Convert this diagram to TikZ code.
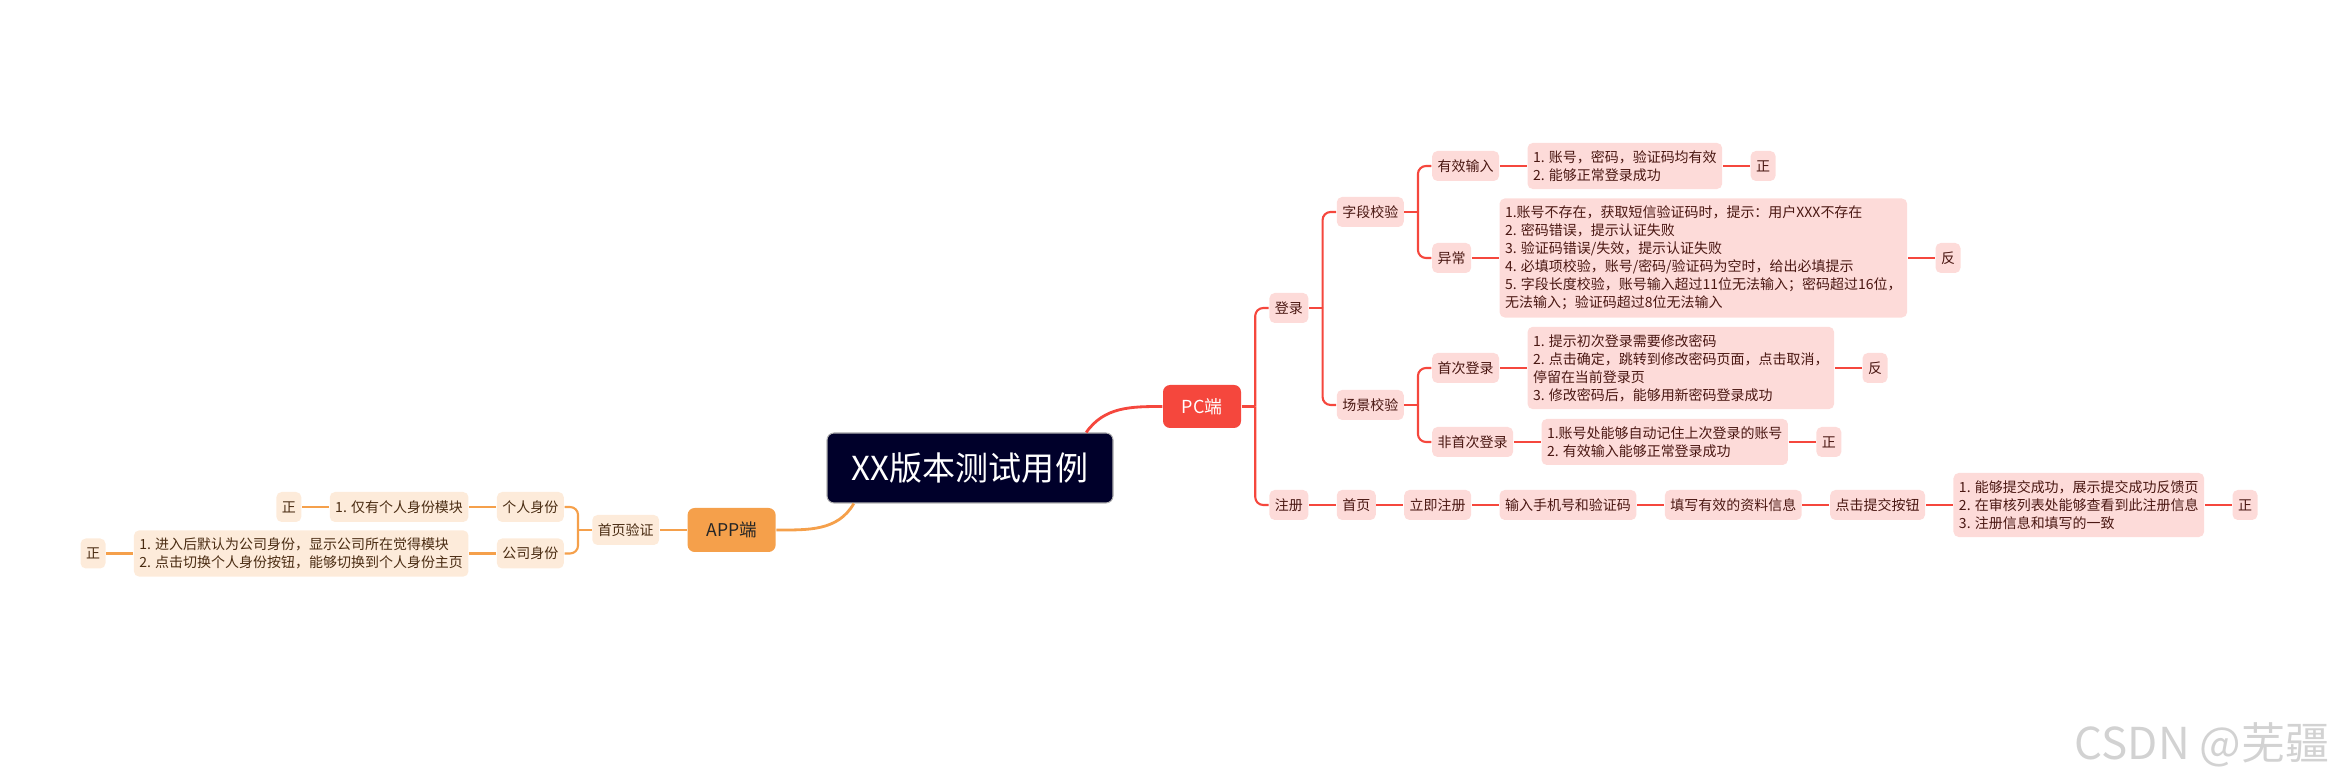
\documentclass[tikz,border=0pt]{standalone}
\usepackage{fontspec}
\setmainfont{Noto Sans CJK SC}
\usepackage{tikz}
\usepackage{xcolor}
\usetikzlibrary{positioning, calc}
\definecolor{MapNavy}{HTML}{00002A}
\definecolor{MapRed}{HTML}{F5473D}
\definecolor{MapPink}{HTML}{FDDBD9}
\definecolor{MapPinkText}{HTML}{4A1712}
\definecolor{MapOrange}{HTML}{F5A04B}
\definecolor{MapCream}{HTML}{FDEBDA}
\definecolor{MapCreamText}{HTML}{4A2C12}
\definecolor{MapGray}{HTML}{D2D2D2}
\tikzset{
    % Node styles - all with rounded corners
    rootbox/.style={
        rectangle,
        rounded corners=2pt,
        draw=gray!60,
        line width=0.3pt,
        fill=MapNavy,
        minimum width=2.86cm,
        minimum height=0.70cm,
        text=white,
        font=\fontsize{9.4}{10.5}\selectfont
    },
    pcbox/.style={
        rectangle,
        rounded corners=2pt,
        fill=MapRed,
        minimum width=0.78cm,
        minimum height=0.43cm,
        text=white,
        font=\fontsize{5.1}{6}\selectfont
    },
    appbox/.style={
        rectangle,
        rounded corners=2pt,
        fill=MapOrange,
        minimum width=0.88cm,
        minimum height=0.44cm,
        text=black!85,
        font=\fontsize{5.0}{6}\selectfont
    },
    pinkbox/.style={
        rectangle,
        rounded corners=1.5pt,
        fill=MapPink,
        text=MapPinkText,
        inner xsep=0.055cm,
        inner ysep=0.075cm,
        minimum height=0.30cm,
        align=left,
        font=\fontsize{3.98}{5.12}\selectfont
    },
    creambox/.style={
        pinkbox,
        fill=MapCream,
        text=MapCreamText
    },
    % Line styles
    pcline/.style={
        draw=MapRed,
        line width=0.6pt
    },
    appline/.style={
        draw=MapOrange,
        line width=0.6pt
    },
    elbow/.style={
        rounded corners=0.08cm
    }
}

\begin{document}
\begin{tikzpicture}
    \useasboundingbox (0,0) rectangle (23.36,7.83);

    % Root and the two sides
    \node[rootbox] (root) at (9.70,3.15) {XX版本测试用例};
    \node[pcbox] (pc) at (12.02,3.765) {PC端};
    \node[appbox] (app) at (7.316,2.53) {APP端};

    % PC side: login
    \node[pinkbox, right=0.27cm of pc, yshift=0.985cm] (login) {登录};
    \node[pinkbox, right=0.27cm of login, yshift=0.96cm] (field) {字段校验};
    \node[pinkbox, right=0.27cm of login, yshift=-0.97cm] (scene) {场景校验};
    \node[pinkbox, right=0.27cm of field, yshift=0.46cm] (valid) {有效输入};
    \node[pinkbox, right=0.27cm of field, yshift=-0.46cm] (invalid) {异常};
    \node[pinkbox, right=0.27cm of scene, yshift=0.37cm] (first) {首次登录};
    \node[pinkbox, right=0.27cm of scene, yshift=-0.37cm] (notfirst) {非首次登录};

    \node[pinkbox, right=0.27cm of valid] (validtxt) {1. 账号，密码，验证码均有效\\2. 能够正常登录成功};
    \node[pinkbox, right=0.27cm of validtxt] (validres) {正};
    \node[pinkbox, right=0.27cm of invalid] (invalidtxt) {1.账号不存在，获取短信验证码时，提示：用户XXX不存在\\2. 密码错误，提示认证失败\\3. 验证码错误/失效，提示认证失败\\4. 必填项校验，账号/密码/验证码为空时，给出必填提示\\5. 字段长度校验，账号输入超过11位无法输入；密码超过16位，\\无法输入；验证码超过8位无法输入};
    \node[pinkbox, right=0.27cm of invalidtxt] (invalidres) {反};
    \node[pinkbox, right=0.27cm of first] (firsttxt) {1. 提示初次登录需要修改密码\\2. 点击确定，跳转到修改密码页面，点击取消，\\停留在当前登录页\\3. 修改密码后，能够用新密码登录成功};
    \node[pinkbox, right=0.27cm of firsttxt] (firstres) {反};
    \node[pinkbox, right=0.27cm of notfirst] (notfirsttxt) {1.账号处能够自动记住上次登录的账号\\2. 有效输入能够正常登录成功};
    \node[pinkbox, right=0.27cm of notfirsttxt] (notfirstres) {正};

    % PC side: register
    \node[pinkbox, right=0.27cm of pc, yshift=-0.985cm] (reg) {注册};
    \node[pinkbox, right=0.27cm of reg] (home) {首页};
    \node[pinkbox, right=0.27cm of home] (regnow) {立即注册};
    \node[pinkbox, right=0.27cm of regnow] (phone) {输入手机号和验证码};
    \node[pinkbox, right=0.27cm of phone] (profile) {填写有效的资料信息};
    \node[pinkbox, right=0.27cm of profile] (submit) {点击提交按钮};
    \node[pinkbox, right=0.27cm of submit] (regtxt) {1. 能够提交成功，展示提交成功反馈页\\2. 在审核列表处能够查看到此注册信息\\3. 注册信息和填写的一致};
    \node[pinkbox, right=0.27cm of regtxt] (regres) {正};

    % APP side
    \node[creambox, left=0.27cm of app] (hv) {首页验证};
    \node[creambox, left=0.27cm of hv, yshift=0.23cm] (pers) {个人身份};
    \node[creambox, left=0.27cm of hv, yshift=-0.235cm] (comp) {公司身份};
    \node[creambox, left=0.27cm of pers] (perstxt) {1. 仅有个人身份模块};
    \node[creambox, left=0.27cm of perstxt] (persres) {正};
    \node[creambox, left=0.27cm of comp] (comptxt) {1. 进入后默认为公司身份，显示公司所在觉得模块\\2. 点击切换个人身份按钮，能够切换到个人身份主页};
    \node[creambox, left=0.27cm of comptxt] (compres) {正};

    % Watermark
    \node[text=MapGray, font=\fontsize{12.5}{14}\selectfont] (watermark) at (22.02,0.38) {CSDN @芜疆};

    % Connectors
    \draw[pcline, line width=0.8pt] (root.17) to[out=55, in=180] (pc.west);
    \draw[appline, line width=0.8pt] (root.197) to[out=240, in=0] (app.east);

    \coordinate (pcjoint) at ($(pc.east)+(0.135,0)$);
    \draw[pcline] (pc.east) -- (pcjoint);
    \draw[pcline, elbow] (pcjoint) |- (login.west);
    \draw[pcline, elbow] (pcjoint) |- (reg.west);

    \coordinate (loginjoint) at ($(login.east)+(0.135,0)$);
    \draw[pcline] (login.east) -- (loginjoint);
    \draw[pcline, elbow] (loginjoint) |- (field.west);
    \draw[pcline, elbow] (loginjoint) |- (scene.west);

    \coordinate (fieldjoint) at ($(field.east)+(0.135,0)$);
    \draw[pcline] (field.east) -- (fieldjoint);
    \draw[pcline, elbow] (fieldjoint) |- (valid.west);
    \draw[pcline, elbow] (fieldjoint) |- (invalid.west);

    \coordinate (scenejoint) at ($(scene.east)+(0.135,0)$);
    \draw[pcline] (scene.east) -- (scenejoint);
    \draw[pcline, elbow] (scenejoint) |- (first.west);
    \draw[pcline, elbow] (scenejoint) |- (notfirst.west);

    \draw[pcline] (valid) -- (validtxt) -- (validres);
    \draw[pcline] (invalid) -- (invalidtxt) -- (invalidres);
    \draw[pcline] (first) -- (firsttxt) -- (firstres);
    \draw[pcline] (notfirst) -- (notfirsttxt) -- (notfirstres);
    \draw[pcline] (reg) -- (home) -- (regnow) -- (phone) -- (profile) -- (submit) -- (regtxt) -- (regres);

    \draw[appline] (app) -- (hv);
    \coordinate (hvjoint) at ($(hv.west)+(-0.135,0)$);
    \draw[appline] (hv.west) -- (hvjoint);
    \draw[appline, elbow] (hvjoint) |- (pers.east);
    \draw[appline, elbow] (hvjoint) |- (comp.east);
    \draw[appline] (pers) -- (perstxt) -- (persres);
    \draw[appline] (comp) -- (comptxt) -- (compres);
\end{tikzpicture}
\end{document}
